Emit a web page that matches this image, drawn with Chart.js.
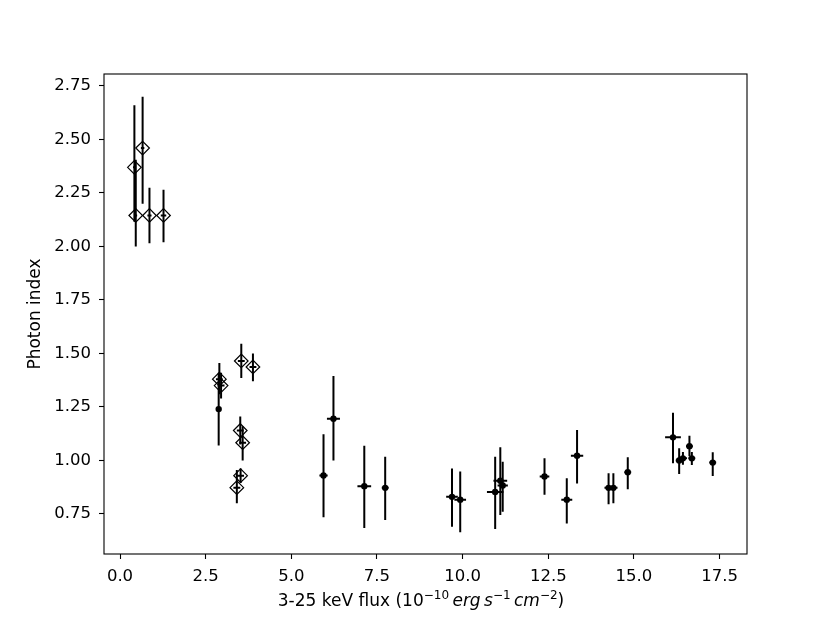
<!DOCTYPE html>
<html>
<head>
<meta charset="utf-8">
<script src="https://cdn.jsdelivr.net/npm/chart.js@4/dist/chart.umd.min.js"></script>
<style>
    html, body { margin: 0; padding: 0; background: #fff; }
    #wrap { width: 830px; height: 623px; }
</style>
</head>
<body>
<div id="wrap"><canvas id="chart" width="830" height="623"></canvas></div>
<script>
// Pontos abertos (losangos)
const xOpen    = [0.42, 0.46, 0.66, 0.86, 1.27, 2.90, 2.95, 3.54, 3.88, 3.51, 3.58, 3.52, 3.41];
const yOpen    = [2.37, 2.145, 2.46, 2.145, 2.145, 1.38, 1.35, 1.465, 1.437, 1.14, 1.083, 0.929, 0.873];
const yOpenLo  = [2.115, 2.00, 2.20, 2.015, 2.02, 1.31, 1.29, 1.385, 1.37, 1.075, 1.00, 0.895, 0.80];
const yOpenHi  = [2.66, 2.405, 2.70, 2.275, 2.265, 1.455, 1.41, 1.545, 1.50, 1.205, 1.16, 0.963, 0.955];
const xOpenErr = [0.04, 0.04, 0.05, 0.06, 0.08, 0.10, 0.10, 0.10, 0.10, 0.10, 0.10, 0.10, 0.10];

// Pontos cheios (círculos)
const xFill    = [2.88, 5.94, 6.23, 7.13, 7.74, 9.69, 9.93, 10.95, 11.10, 11.17, 12.39, 13.04, 13.34, 14.26, 14.40, 14.82, 16.14, 16.32, 16.43, 16.62, 16.69, 17.30];
const yFill    = [1.24, 0.93, 1.195, 0.88, 0.872, 0.83, 0.817, 0.853, 0.905, 0.883, 0.925, 0.817, 1.022, 0.872, 0.872, 0.945, 1.108, 1.0, 1.01, 1.067, 1.01, 0.99];
const yFillLo  = [1.07, 0.735, 1.0, 0.685, 0.722, 0.69, 0.665, 0.68, 0.745, 0.76, 0.84, 0.706, 0.893, 0.795, 0.80, 0.865, 0.987, 0.937, 0.98, 1.02, 0.979, 0.928];
const yFillHi  = [1.41, 1.122, 1.395, 1.069, 1.018, 0.963, 0.948, 1.018, 1.062, 0.994, 1.01, 0.917, 1.143, 0.94, 0.94, 1.015, 1.223, 1.057, 1.04, 1.115, 1.04, 1.039];
const xFillErr = [0.05, 0.12, 0.19, 0.20, 0.10, 0.17, 0.17, 0.24, 0.20, 0.15, 0.14, 0.16, 0.18, 0.12, 0.12, 0.10, 0.23, 0.10, 0.12, 0.10, 0.10, 0.10];

// Ticks dos eixos
const xTicks = [0, 2.5, 5, 7.5, 10, 12.5, 15, 17.5];
const yTicks = [0.75, 1.0, 1.25, 1.5, 1.75, 2.0, 2.25, 2.5, 2.75];

const FONT = '"DejaVu Sans", sans-serif';

const toPoints = (xs, ys, lo, hi, xe) => xs.map((x, i) => ({ x: x, y: ys[i], lo: lo[i], hi: hi[i], xe: xe[i] }));

// Desenha as barras de erro por baixo dos marcadores
const errorBars = {
    id: 'errorBars',
    beforeDatasetsDraw(chart) {
        const { ctx, scales: { x, y } } = chart;
        ctx.save();
        ctx.strokeStyle = '#000';
        ctx.lineWidth = 2;
        chart.data.datasets.forEach(ds => {
            ds.data.forEach(p => {
                const px = x.getPixelForValue(p.x);
                const py = y.getPixelForValue(p.y);
                ctx.beginPath();
                ctx.moveTo(px, y.getPixelForValue(p.lo));
                ctx.lineTo(px, y.getPixelForValue(p.hi));
                ctx.moveTo(x.getPixelForValue(p.x - p.xe), py);
                ctx.lineTo(x.getPixelForValue(p.x + p.xe), py);
                ctx.stroke();
            });
        });
        ctx.restore();
    }
};

// Moldura e título do eixo x com sobrescritos
const frame = {
    id: 'frame',
    afterDraw(chart) {
        const { ctx, chartArea: a } = chart;
        ctx.save();
        ctx.strokeStyle = '#000';
        ctx.lineWidth = 1.1;
        ctx.strokeRect(a.left, a.top, a.right - a.left, a.bottom - a.top);

        const parts = [
            { t: '3-25 keV flux (10', f: '17px ' + FONT, dy: 0 },
            { t: '\u221210', f: '12px ' + FONT, dy: -7 },
            { t: '\u2009', f: '17px ' + FONT, dy: 0 },
            { t: 'erg', f: 'italic 17px ' + FONT, dy: 0 },
            { t: '\u2009s', f: 'italic 17px ' + FONT, dy: 0 },
            { t: '\u22121', f: '12px ' + FONT, dy: -7 },
            { t: '\u2009cm', f: 'italic 17px ' + FONT, dy: 0 },
            { t: '\u22122', f: '12px ' + FONT, dy: -7 },
            { t: ')', f: '17px ' + FONT, dy: 0 }
        ];
        let total = 0;
        parts.forEach(p => { ctx.font = p.f; p.w = ctx.measureText(p.t).width; total += p.w; });
        let cx = 421 - total / 2;
        const base = 606;
        ctx.fillStyle = '#000';
        ctx.textBaseline = 'alphabetic';
        parts.forEach(p => {
            ctx.font = p.f;
            ctx.fillText(p.t, cx, base + p.dy);
            cx += p.w;
        });
        ctx.restore();
    }
};

const ctx = document.getElementById('chart').getContext('2d');
new Chart(ctx, {
    type: 'scatter',
    data: {
        datasets: [
            {
                label: 'open',
                data: toPoints(xOpen, yOpen, yOpenLo, yOpenHi, xOpenErr),
                pointStyle: 'rectRot',
                pointRadius: 6.8,
                pointBorderWidth: 1.2,
                pointBorderColor: '#000',
                pointBackgroundColor: 'rgba(0,0,0,0)'
            },
            {
                label: 'filled',
                data: toPoints(xFill, yFill, yFillLo, yFillHi, xFillErr),
                pointStyle: 'circle',
                pointRadius: 3.2,
                pointBorderWidth: 0,
                pointBackgroundColor: '#000'
            }
        ]
    },
    options: {
        responsive: false,
        animation: false,
        layout: { padding: { left: 0, right: 83, top: 74, bottom: 0 } },
        plugins: {
            legend: { display: false },
            tooltip: { enabled: false }
        },
        scales: {
            x: {
                type: 'linear',
                min: -0.467,
                max: 18.3,
                afterBuildTicks: (s) => { s.ticks = xTicks.map(v => ({ value: v })); },
                afterFit: (s) => { s.height = 69; },
                border: { display: false },
                grid: { drawOnChartArea: false, drawTicks: true, tickLength: 5, tickColor: '#000', tickWidth: 1.1 },
                ticks: {
                    color: '#000',
                    padding: 8,
                    maxRotation: 0,
                    font: { family: FONT, size: 16.5 },
                    callback: (v) => Number(v).toFixed(1)
                }
            },
            y: {
                type: 'linear',
                min: 0.563,
                max: 2.806,
                afterBuildTicks: (s) => { s.ticks = yTicks.map(v => ({ value: v })); },
                afterFit: (s) => { s.width = 104; },
                border: { display: false },
                grid: { drawOnChartArea: false, drawTicks: true, tickLength: 5, tickColor: '#000', tickWidth: 1.1 },
                ticks: {
                    color: '#000',
                    padding: 8,
                    font: { family: FONT, size: 16.5 },
                    callback: (v) => Number(v).toFixed(2)
                },
                title: {
                    display: true,
                    text: 'Photon index',
                    color: '#000',
                    padding: { top: 25, bottom: 0 },
                    font: { family: FONT, size: 17 }
                }
            }
        }
    },
    plugins: [errorBars, frame]
});
</script>
</body>
</html>
